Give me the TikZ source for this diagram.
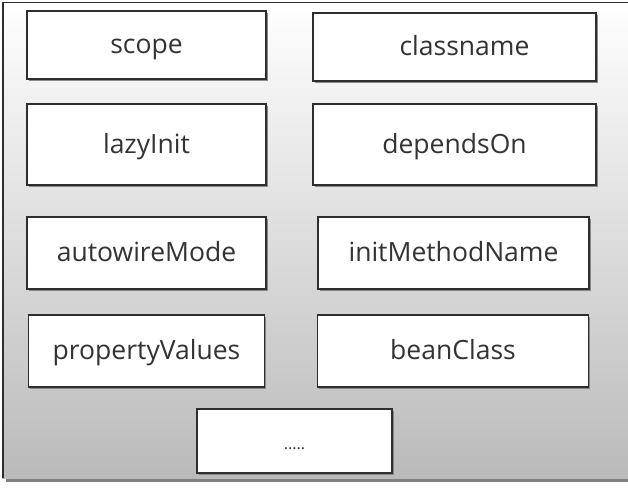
\documentclass[tikz,border=0pt]{standalone}
\usepackage{fontspec}
\setmainfont{Open Sans}
\usepackage{tikz}
\usetikzlibrary{shapes,positioning,shadows}
\definecolor{boxline}{HTML}{2E2E2E}
\definecolor{boxtext}{HTML}{333333}
\tikzstyle{field} = [rectangle, draw=boxline, line width=1.3pt, fill=white, text=boxtext, inner sep=0pt, text centered, text height=17pt, text depth=0pt, minimum width=239pt, minimum height=72pt, font=\fontsize{26.5}{30}\selectfont, drop shadow={shadow xshift=1.6pt, shadow yshift=-1.6pt, fill=gray, opacity=0.9}]

\begin{document}
\begin{tikzpicture}
	\useasboundingbox (0,0) rectangle (628pt,-492pt);
	\fill[gray] (6pt,-478pt) rectangle (628pt,-482pt);
	\shade[top color=white, bottom color=black!27] (2pt,-2pt) rectangle (628pt,-478pt);
	\draw[boxline, line width=1.5pt] (2.75pt,-478pt) |- (628pt,-2.75pt);

	\node[field, minimum height=68pt](scope) at (146.5pt,-45pt){scope};
	\node[field, below of=scope, node distance=99.5pt, minimum height=81pt](lazyinit){lazyInit};
	\node[field, below of=lazyinit, node distance=108.5pt](autowire){autowireMode};
	\node[field, below of=autowire, node distance=98pt, minimum width=236pt](propvalues){propertyValues};
	\node[field, right of=scope, node distance=308pt, yshift=-2pt, minimum width=283pt, minimum height=68pt](classname){\hspace{20pt}classname};
	\node[field, right of=lazyinit, node distance=308pt, minimum width=283pt, minimum height=81pt](dependson){dependsOn};
	\node[field, right of=autowire, node distance=307pt, minimum width=271pt](initmethod){initMethodName};
	\node[field, right of=propvalues, node distance=306.5pt, minimum width=271pt](beanclass){beanClass};
	\node[field, minimum width=195pt, minimum height=64pt, font=\fontsize{16}{20}\selectfont](more) at (294.5pt,-441pt){.....};
\end{tikzpicture}
\end{document}
